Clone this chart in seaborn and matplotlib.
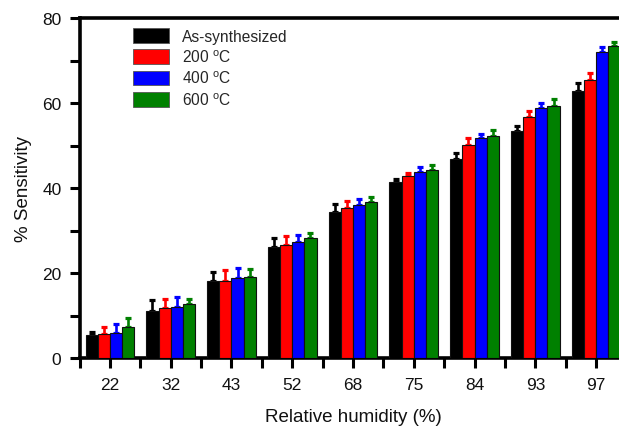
import numpy as np
import pandas as pd
import matplotlib
matplotlib.use("Agg")
import matplotlib.pyplot as plt
import matplotlib.patches as mpatches
from matplotlib.ticker import FixedLocator, MultipleLocator
import seaborn as sns

# Relative humidity levels (categories on the x axis)
humidity = ["22", "32", "43", "52", "68", "75", "84", "93", "97"]

# Mean sensitivity (%) for each sample
as_synthesized = [5.3, 11.1, 18.2, 26.1, 34.4, 41.5, 46.8, 53.3, 62.9]
annealed_200 = [5.7, 11.7, 18.2, 26.6, 35.2, 42.9, 50.1, 56.8, 65.5]
annealed_400 = [5.9, 12.1, 18.8, 27.2, 36.0, 43.8, 51.8, 58.8, 71.9]
annealed_600 = [7.3, 12.8, 19.1, 28.2, 36.8, 44.2, 52.2, 59.4, 73.3]

# Standard deviations (upper error bars)
err_as = [0.9, 2.6, 2.1, 2.1, 1.8, 0.6, 1.4, 1.3, 1.8]
err_200 = [1.7, 2.2, 2.5, 2.2, 1.7, 0.7, 1.6, 1.3, 1.5]
err_400 = [2.2, 2.2, 2.4, 1.8, 1.3, 1.1, 0.9, 1.2, 1.3]
err_600 = [2.1, 1.1, 1.8, 1.2, 1.2, 1.2, 1.4, 1.5, 1.1]

series_labels = ["As-synthesized", r"200 $^{\rm o}$C", r"400 $^{\rm o}$C", r"600 $^{\rm o}$C"]
series_values = [as_synthesized, annealed_200, annealed_400, annealed_600]
series_errors = [err_as, err_200, err_400, err_600]
colors = ["#000000", "#ff0000", "#0000ff", "#008000"]

rows = []
for lab, vals, errs in zip(series_labels, series_values, series_errors):
    for h, v, e in zip(humidity, vals, errs):
        rows.append({"humidity": h, "sample": lab, "sensitivity": v, "err": e})
df = pd.DataFrame(rows)

sns.set_style("ticks")
plt.rcParams["font.family"] = ["Liberation Sans", "DejaVu Sans"]
plt.rcParams["mathtext.fontset"] = "custom"
plt.rcParams["mathtext.rm"] = "Liberation Sans"
plt.rcParams["mathtext.it"] = "Liberation Sans:italic"
plt.rcParams["mathtext.bf"] = "Liberation Sans:bold"

fig = plt.figure(figsize=(6.19, 4.27), dpi=100)
ax = fig.add_axes([79.5 / 619, 1 - 359 / 427, (626.5 - 79.5) / 619, (359 - 19) / 427])

sns.barplot(
    data=df, x="humidity", y="sensitivity", hue="sample",
    order=humidity, hue_order=series_labels, palette=colors,
    width=0.8, errorbar=None, edgecolor="#111111", linewidth=0.8,
    saturation=1, legend=False, ax=ax, zorder=3,
)

# upper error bars, positioned on each drawn bar
err_table = np.array(series_errors)
for p in ax.patches:
    w = p.get_width()
    if w <= 0:
        continue
    xc = p.get_x() + w / 2
    cat = int(round(xc))
    s = int(round((xc - cat + 0.3) / 0.2))
    h = p.get_height()
    ax.errorbar(xc, h, yerr=[[0], [err_table[s, cat]]], fmt="none",
                ecolor=colors[s], elinewidth=1.9, capsize=2.5, capthick=2.3,
                zorder=2)

ax.set_xlim(-0.5, 8.5)
ax.set_ylim(0, 80)
ax.yaxis.set_major_locator(MultipleLocator(20))
ax.yaxis.set_minor_locator(MultipleLocator(10))
ax.xaxis.set_minor_locator(FixedLocator(np.arange(-0.5, 9.0, 1.0)))

for side in ["left", "bottom", "top", "right"]:
    ax.spines[side].set_linewidth(2.6)
    ax.spines[side].set_color("black")

ax.tick_params(axis="both", which="both", direction="out", width=2.2,
               length=7, color="black", labelsize=12.5, labelcolor="#111111")
ax.tick_params(axis="y", which="major", pad=6)
ax.tick_params(axis="x", which="major", pad=7)
ax.tick_params(top=False, right=False, which="both")

ax.set_xlabel("Relative humidity (%)", fontsize=13.5, labelpad=11, color="#111111")
ax.set_ylabel("% Sensitivity", fontsize=13.5, labelpad=7, color="#111111")

handles = [mpatches.Patch(facecolor=c, edgecolor="#555555", linewidth=0.6) for c in colors]
fig.legend(handles, series_labels, loc="upper left",
           bbox_to_anchor=(133 / 619, 1 - 29 / 427), frameon=False,
           fontsize=11.2, handlelength=2.3, handleheight=1.1,
           handletextpad=0.85, labelspacing=0.3, borderpad=0, borderaxespad=0)

fig.savefig("out.png", dpi=100)
